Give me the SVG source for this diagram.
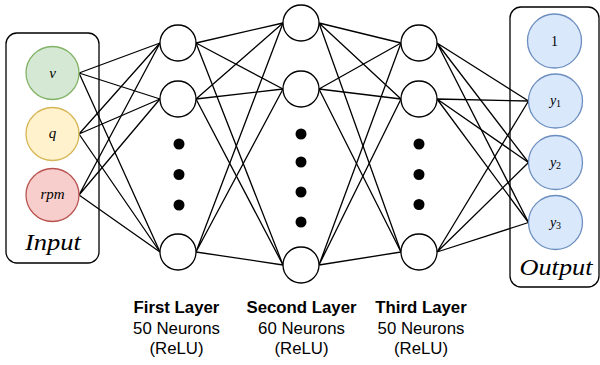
<svg xmlns="http://www.w3.org/2000/svg" width="600" height="365" viewBox="0 0 600 365">
  <style>
    .box { fill: #ffffff; stroke: #000000; stroke-width: 1.3; }
    .neuron { fill: #ffffff; stroke: #000000; stroke-width: 1.3; }
    .dot { fill: #000000; }
    .edge { stroke: #000000; stroke-width: 1.3; fill: none; }
    .in-v { fill: #d5e8d4; stroke: #82b366; stroke-width: 1.3; }
    .in-q { fill: #fff2cc; stroke: #d6b656; stroke-width: 1.3; }
    .in-r { fill: #f8cecc; stroke: #b85450; stroke-width: 1.3; }
    .out { fill: #dae8fc; stroke: #6c8ebf; stroke-width: 1.3; }
    .math { font-family: "Liberation Serif", "DejaVu Serif", serif; font-style: italic; fill: #000000; text-anchor: middle; }
    .roman { font-family: "Liberation Serif", "DejaVu Serif", serif; fill: #000000; text-anchor: middle; }
    .lbl { font-family: "Liberation Sans", Arial, sans-serif; font-size: 16.8px; fill: #000000; text-anchor: middle; }
    .lbl-b { font-weight: bold; }
  </style>

  <!-- container boxes -->
  <g id="input-box">
    <rect class="box" x="6" y="33" width="93" height="230" rx="11"/>
    <text class="math" x="53" y="250" font-size="23" textLength="56" lengthAdjust="spacingAndGlyphs">Input</text>
  </g>
  <g id="output-box">
    <rect class="box" x="510" y="7" width="89" height="280" rx="11"/>
    <text class="math" x="556" y="275" font-size="23" textLength="73" lengthAdjust="spacingAndGlyphs">Output</text>
  </g>

  <!-- connectors -->
  <g id="connectors">
    <!-- inputs to first layer -->
    <path class="edge" d="M79 73 L160 43 M79 73 L160 99 M79 73 L160 252"/>
    <path class="edge" d="M79 134 L160 43 M79 134 L160 99 M79 134 L160 252"/>
    <path class="edge" d="M79 195 L160 43 M79 195 L160 99 M79 195 L160 252"/>
    <!-- first layer to second layer -->
    <path class="edge" d="M196 43 L283 23 M196 43 L283 89 M196 43 L283 265"/>
    <path class="edge" d="M196 99 L283 23 M196 99 L283 89 M196 99 L283 265"/>
    <path class="edge" d="M196 252 L283 23 M196 252 L283 89 M196 252 L283 265"/>
    <!-- second layer to third layer -->
    <path class="edge" d="M319 23 L401 43 M319 23 L401 99 M319 23 L401 252"/>
    <path class="edge" d="M319 89 L401 43 M319 89 L401 99 M319 89 L401 252"/>
    <path class="edge" d="M319 265 L401 43 M319 265 L401 99 M319 265 L401 252"/>
    <!-- third layer to outputs -->
    <path class="edge" d="M437 43 L528.5 101 M437 43 L528.5 162.5 M437 43 L528.5 222.5"/>
    <path class="edge" d="M437 99 L528.5 101 M437 99 L528.5 162.5 M437 99 L528.5 222.5"/>
    <path class="edge" d="M437 252 L528.5 101 M437 252 L528.5 162.5 M437 252 L528.5 222.5"/>
  </g>

  <!-- input nodes -->
  <g id="in-v">
    <circle class="in-v" cx="52.5" cy="73" r="26.5"/>
    <text class="math" x="52.5" y="78" font-size="15">v</text>
  </g>
  <g id="in-q">
    <circle class="in-q" cx="52.5" cy="134" r="26.5"/>
    <text class="math" x="52.5" y="138" font-size="15">q</text>
  </g>
  <g id="in-rpm">
    <circle class="in-r" cx="52.5" cy="195" r="26.5"/>
    <text class="math" x="52.5" y="199" font-size="15">rpm</text>
  </g>

  <!-- first layer -->
  <g id="l1-n1"><circle class="neuron" cx="178" cy="43" r="18"/></g>
  <g id="l1-n2"><circle class="neuron" cx="178" cy="99" r="18"/></g>
  <g id="l1-dots">
    <circle class="dot" cx="179" cy="144" r="5.5"/>
    <circle class="dot" cx="179" cy="174.5" r="5.5"/>
    <circle class="dot" cx="179" cy="205" r="5.5"/>
  </g>
  <g id="l1-n3"><circle class="neuron" cx="178" cy="252" r="18"/></g>

  <!-- second layer -->
  <g id="l2-n1"><circle class="neuron" cx="301" cy="23" r="18"/></g>
  <g id="l2-n2"><circle class="neuron" cx="301" cy="89" r="18"/></g>
  <g id="l2-dots">
    <circle class="dot" cx="301" cy="134" r="5.5"/>
    <circle class="dot" cx="301" cy="162" r="5.5"/>
    <circle class="dot" cx="301" cy="192" r="5.5"/>
    <circle class="dot" cx="301" cy="222" r="5.5"/>
  </g>
  <g id="l2-n3"><circle class="neuron" cx="301" cy="265" r="18"/></g>

  <!-- third layer -->
  <g id="l3-n1"><circle class="neuron" cx="419" cy="43" r="18"/></g>
  <g id="l3-n2"><circle class="neuron" cx="419" cy="99" r="18"/></g>
  <g id="l3-dots">
    <circle class="dot" cx="419" cy="144" r="5.5"/>
    <circle class="dot" cx="419" cy="174.5" r="5.5"/>
    <circle class="dot" cx="419" cy="204.5" r="5.5"/>
  </g>
  <g id="l3-n3"><circle class="neuron" cx="419" cy="252" r="18"/></g>

  <!-- output nodes -->
  <g id="out-1">
    <circle class="out" cx="554.5" cy="41" r="27"/>
    <text class="roman" x="554.5" y="46" font-size="14">1</text>
  </g>
  <g id="out-y1">
    <circle class="out" cx="555.5" cy="101" r="27"/>
    <text class="math" x="555.5" y="105" font-size="14">y<tspan font-style="normal" font-size="10" dy="2">1</tspan></text>
  </g>
  <g id="out-y2">
    <circle class="out" cx="555.5" cy="162.5" r="27"/>
    <text class="math" x="555.5" y="166.5" font-size="14">y<tspan font-style="normal" font-size="10" dy="2">2</tspan></text>
  </g>
  <g id="out-y3">
    <circle class="out" cx="555.5" cy="222.5" r="27"/>
    <text class="math" x="555.5" y="226.5" font-size="14">y<tspan font-style="normal" font-size="10" dy="2">3</tspan></text>
  </g>

  <!-- layer captions -->
  <g id="cap-first">
    <text class="lbl lbl-b" x="176.5" y="313">First Layer</text>
    <text class="lbl" x="176.5" y="333.5">50 Neurons</text>
    <text class="lbl" x="176.5" y="354">(ReLU)</text>
  </g>
  <g id="cap-second">
    <text class="lbl lbl-b" x="301.5" y="313">Second Layer</text>
    <text class="lbl" x="301.5" y="333.5">60 Neurons</text>
    <text class="lbl" x="301.5" y="354">(ReLU)</text>
  </g>
  <g id="cap-third">
    <text class="lbl lbl-b" x="421" y="313">Third Layer</text>
    <text class="lbl" x="421" y="333.5">50 Neurons</text>
    <text class="lbl" x="421" y="354">(ReLU)</text>
  </g>
</svg>
